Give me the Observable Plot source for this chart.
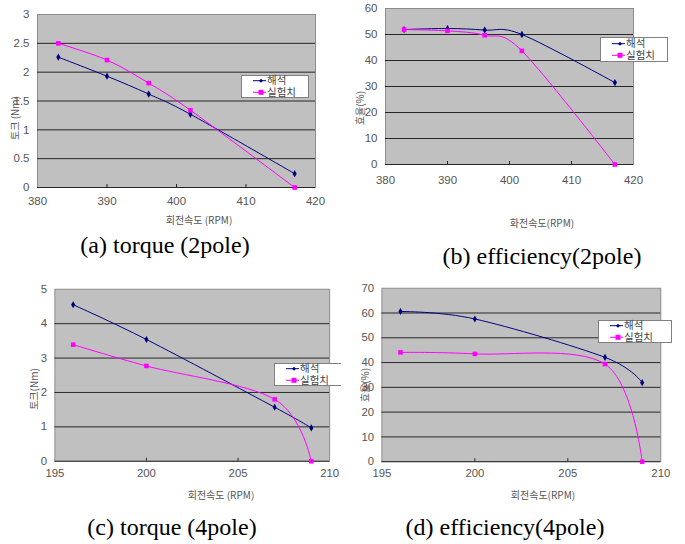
<!DOCTYPE html>
<html><head><meta charset="utf-8">
<script src="https://cdn.jsdelivr.net/npm/d3@7"></script>
<script src="https://cdn.jsdelivr.net/npm/@observablehq/plot@0.6"></script>
<style>
html,body{margin:0;padding:0;background:#fff;}
#root{position:relative;width:685px;height:544px;overflow:hidden;background:#fff;}
.panel{position:absolute;overflow:hidden;}
.ttl{position:absolute;font-family:"Noto Sans CJK KR","Liberation Sans",sans-serif;font-size:10px;line-height:12px;color:#555;white-space:nowrap;transform:translate(-50%,-50%);}
.yt{transform:translate(-50%,-50%) rotate(-90deg);}
.cap{position:absolute;font-family:"Liberation Serif","Noto Serif","DejaVu Serif","Times New Roman",Times,serif;font-size:24px;line-height:28px;color:#000;white-space:nowrap;transform:translate(-50%,-50%);}
.leg{position:absolute;display:block;overflow:visible;}
</style></head>
<body><div id="root"></div>
<script>
// ---- data ----
const series = ["해석", "실험치"];
const rpm2 = [383, 390, 396, 402, 417];
const torque2Sim = [2.26, 1.93, 1.62, 1.27, 0.24];
const torque2Exp = [2.50, 2.21, 1.81, 1.34, 0.00];
const eff2Sim = [51.9, 52.3, 51.7, 50.0, 31.5];
const eff2Exp = [51.9, 51.4, 49.7, 43.7, 0.0];
const rpm4 = [196, 200, 207, 209];
const torque4Sim = [4.55, 3.54, 1.57, 0.97];
const torque4Exp = [3.39, 2.77, 1.80, 0.00];
const eff4Sim = [60.6, 57.6, 42.1, 31.9];
const eff4Exp = [44.1, 43.5, 39.4, 0.0];
const xTicks2 = [380, 390, 400, 410, 420];
const xTicks4 = [195, 200, 205, 210];
const yTicksA = [0, 0.5, 1, 1.5, 2, 2.5, 3];
const yTicksB = [0, 10, 20, 30, 40, 50, 60];
const yTicksC = [0, 1, 2, 3, 4, 5];
const yTicksD = [0, 10, 20, 30, 40, 50, 60, 70];
const captions = ["(a) torque (2pole)", "(b) efficiency(2pole)", "(c) torque (4pole)", "(d) efficiency(4pole)"];
const xTitles = ["회전속도 (RPM)", "화전속도(RPM)", "회전속도 (RPM)", "회전속도(RPM)"];
const yTitles = ["토크 (Nm)", "효율(%)", "토크(Nm)", "효율(%)"];

const NAVY = "#000080", MAG = "#ff00ff";
const root = document.getElementById("root");

function rows(xs, ys) { return xs.map((x, i) => ({x, y: ys[i]})); }

function legendSvg(w, h) {
  const svg = d3.create("svg").attr("class", "leg").attr("width", w).attr("height", h);
  svg.append("rect").attr("x", 0.5).attr("y", 0.5).attr("width", w - 1).attr("height", h - 1)
    .attr("fill", "#fff").attr("stroke", "#808080");
  const colors = [NAVY, MAG];
  series.forEach((s, i) => {
    const cy = h / 2 + (i === 0 ? -5.8 : 5.8);
    const g = svg.append("g");
    g.append("line").attr("x1", 12).attr("x2", 25).attr("y1", cy).attr("y2", cy).attr("stroke", colors[i]);
    if (i === 0) g.append("path").attr("d", `M20,${cy - 2}L22,${cy}L20,${cy + 2}L18,${cy}Z`).attr("fill", NAVY);
    else g.append("rect").attr("x", 17.5).attr("y", cy - 2.5).attr("width", 5).attr("height", 5).attr("fill", MAG);
    g.append("text").attr("x", 26).attr("y", cy).attr("dy", "0.36em")
      .attr("font-family", "'Noto Sans CJK KR', 'Liberation Sans', sans-serif").attr("font-size", 10.5)
      .attr("fill", "#444").text(s);
  });
  return svg.node();
}

function panel(cfg) {
  const box = document.createElement("div");
  box.className = "panel";
  Object.assign(box.style, {left: cfg.left + "px", top: cfg.top + "px", width: cfg.clipW + "px", height: cfg.height + "px"});
  const plotH = cfg.height - cfg.mt - cfg.mb;
  const sim = rows(cfg.xs, cfg.sim), exp = rows(cfg.xs, cfg.exp);
  const yt = cfg.yticks;
  const chart = Plot.plot({
    width: cfg.width, height: cfg.height,
    marginLeft: cfg.ml, marginRight: cfg.mr, marginTop: cfg.mt, marginBottom: cfg.mb,
    style: {fontFamily: "'Liberation Sans Narrow', 'Liberation Sans', Arial, sans-serif", fontSize: "11.5px", color: "#555", background: "transparent", overflow: "visible"},
    x: {domain: [cfg.xticks[0], cfg.xticks[cfg.xticks.length - 1]]},
    y: {domain: [yt[0], yt[yt.length - 1]]},
    marks: [
      Plot.frame({fill: "#c0c0c0", stroke: "#8c8c8c"}),
      Plot.ruleY(yt.slice(1, -1), {stroke: "#262626", strokeWidth: 1}),
      Plot.ruleY([yt[0]], {stroke: "#262626", strokeWidth: 1}),
      Plot.tickX(cfg.xticks.slice(1, -1), {x: d => d, stroke: "#262626", insetTop: plotH - 3}),
      Plot.axisX({ticks: cfg.xticks, tickSize: 0, tickPadding: cfg.xpad, label: null, tickFormat: d => String(d)}),
      Plot.axisY({ticks: yt, tickSize: 0, tickPadding: 8, label: null, tickFormat: d => String(d)}),
      Plot.line(sim, {x: "x", y: "y", stroke: NAVY, strokeWidth: 1, curve: "cardinal"}),
      Plot.dot(sim, {x: "x", y: "y", symbol: "diamond", r: 2.2, fill: NAVY, stroke: "none"}),
      Plot.line(exp, {x: "x", y: "y", stroke: MAG, strokeWidth: 1, curve: "cardinal"}),
      Plot.dot(exp, {x: "x", y: "y", symbol: "square", r: 2.6, fill: MAG, stroke: "none"})
    ]
  });
  box.appendChild(chart);
  const leg = legendSvg(cfg.leg[2], cfg.leg[3]);
  leg.style.position = "absolute";
  leg.style.left = (cfg.leg[0] - cfg.left) + "px";
  leg.style.top = (cfg.leg[1] - cfg.top) + "px";
  box.appendChild(leg);
  root.appendChild(box);
  // titles
  const xt = document.createElement("div");
  xt.className = "ttl"; xt.textContent = cfg.xTitle;
  Object.assign(xt.style, {left: cfg.xtPos[0] + "px", top: cfg.xtPos[1] + "px"});
  root.appendChild(xt);
  const ytl = document.createElement("div");
  ytl.className = "ttl yt"; ytl.textContent = cfg.yTitle;
  Object.assign(ytl.style, {left: cfg.ytPos[0] + "px", top: cfg.ytPos[1] + "px"});
  root.appendChild(ytl);
  const cap = document.createElement("div");
  cap.className = "cap"; cap.textContent = cfg.caption;
  Object.assign(cap.style, {left: cfg.capPos[0] + "px", top: cfg.capPos[1] + "px"});
  root.appendChild(cap);
}

panel({left: 0, top: 0, width: 340, clipW: 340, height: 232, ml: 37, mr: 25, mt: 14, mb: 45, xpad: 9,
  xs: rpm2, sim: torque2Sim, exp: torque2Exp, xticks: xTicks2, yticks: yTicksA,
  leg: [241, 75, 68, 23], xTitle: xTitles[0], xtPos: [199, 220], yTitle: yTitles[0], ytPos: [15, 118],
  caption: captions[0], capPos: [165, 245]});
panel({left: 340, top: 0, width: 345, clipW: 345, height: 232, ml: 45, mr: 52, mt: 8, mb: 68, xpad: 11,
  xs: rpm2, sim: eff2Sim, exp: eff2Exp, xticks: xTicks2, yticks: yTicksB,
  leg: [600, 37, 68, 25], xTitle: xTitles[1], xtPos: [542, 223], yTitle: yTitles[1], ytPos: [360, 108],
  caption: captions[1], capPos: [542, 256]});
panel({left: 0, top: 270, width: 345, clipW: 341, height: 235, ml: 55, mr: 12, mt: 19, mb: 42, xpad: 8,
  xs: rpm4, sim: torque4Sim, exp: torque4Exp, xticks: xTicks4, yticks: yTicksC,
  leg: [274, 363, 70, 23], xTitle: xTitles[2], xtPos: [221, 495], yTitle: yTitles[2], ytPos: [34, 389],
  caption: captions[2], capPos: [172, 527]});
panel({left: 340, top: 270, width: 345, clipW: 340, height: 235, ml: 42, mr: 20, mt: 18, mb: 41, xpad: 7,
  xs: rpm4, sim: eff4Sim, exp: eff4Exp, xticks: xTicks4, yticks: yTicksD,
  leg: [598, 320, 74, 23], xTitle: xTitles[3], xtPos: [543, 495], yTitle: yTitles[3], ytPos: [365, 385],
  caption: captions[3], capPos: [505, 527]});
</script>
</body></html>
